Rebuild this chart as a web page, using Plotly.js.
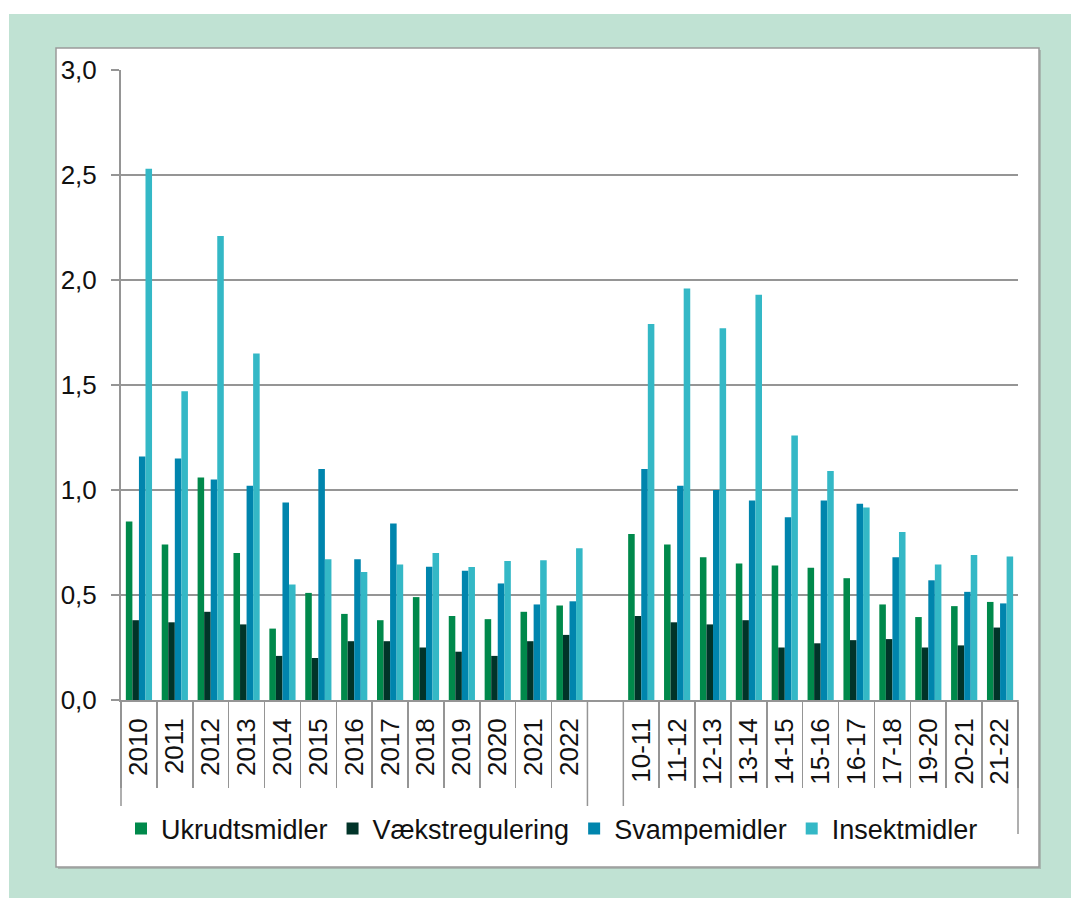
<!DOCTYPE html>
<html>
<head>
<meta charset="utf-8">
<script src="https://cdn.plot.ly/plotly-3.0.1.min.js"></script>
<style>
  html, body { margin: 0; padding: 0; background: #ffffff; }
  #chart { width: 1071px; height: 898px; }
</style>
</head>
<body>
<div id="chart"></div>
<script>
// ---- data ----
var yearCats = ["2010","2011","2012","2013","2014","2015","2016","2017","2018","2019","2020","2021","2022"];
var seasonCats = ["10-11","11-12","12-13","13-14","14-15","15-16","16-17","17-18","19-20","20-21","21-22"];
var gapCat = [" "];

var ukrudtYears   = [0.85, 0.74, 1.06, 0.70, 0.34, 0.51, 0.41, 0.38, 0.49, 0.40, 0.385, 0.42, 0.45];
var vaekstYears   = [0.38, 0.37, 0.42, 0.36, 0.21, 0.20, 0.28, 0.28, 0.25, 0.23, 0.21, 0.28, 0.31];
var svampYears    = [1.16, 1.15, 1.05, 1.02, 0.94, 1.10, 0.67, 0.84, 0.635, 0.615, 0.555, 0.455, 0.47];
var insektYears   = [2.53, 1.47, 2.21, 1.65, 0.55, 0.67, 0.61, 0.645, 0.70, 0.633, 0.662, 0.665, 0.723];

var ukrudtSeasons = [0.79, 0.74, 0.68, 0.65, 0.64, 0.63, 0.58, 0.455, 0.395, 0.447, 0.467];
var vaekstSeasons = [0.40, 0.37, 0.36, 0.38, 0.25, 0.27, 0.285, 0.29, 0.25, 0.26, 0.345];
var svampSeasons  = [1.10, 1.02, 1.00, 0.95, 0.87, 0.95, 0.935, 0.68, 0.57, 0.515, 0.46];
var insektSeasons = [1.79, 1.96, 1.77, 1.93, 1.26, 1.09, 0.917, 0.80, 0.645, 0.69, 0.683];

var seriesNames  = ["Ukrudtsmidler", "Vækstregulering", "Svampemidler", "Insektmidler"];
var seriesColors = ["#00894b", "#013429", "#0085ad", "#34b8c6"];
var yTickVals = [0, 0.5, 1.0, 1.5, 2.0, 2.5, 3.0];

// ---- build ----
var cats = yearCats.concat(gapCat, seasonCats);
function join(a, b) { return a.concat([null], b); }
var seriesValues = [
  join(ukrudtYears, ukrudtSeasons),
  join(vaekstYears, vaekstSeasons),
  join(svampYears, svampSeasons),
  join(insektYears, insektSeasons)
];

var FONT = '"Liberation Sans", Arial, sans-serif';
var GRID = '#959595';
var FS = 26;

var traces = seriesNames.map(function (name, i) {
  return {
    type: 'bar', name: name, x: cats, y: seriesValues[i],
    marker: { color: seriesColors[i], line: { width: 0 } },
    xaxis: 'x', yaxis: 'y', hoverinfo: 'x+y+name'
  };
});
// label-only axis carrier (invisible)
traces.push({
  type: 'scatter', mode: 'none', x: cats, y: cats.map(function () { return null; }),
  xaxis: 'x2', yaxis: 'y', showlegend: false, hoverinfo: 'skip'
});

var N = cats.length;
var b1 = yearCats.length / N, b2 = (yearCats.length + 1) / N;

// plot area in px: left 121, width 897, top 70, height 630
function px(x) { return (x - 121) / 897; }
function py(y) { return (700 - y) / 630; }

var shapes = [
  { type: 'rect', xref: 'paper', yref: 'paper', layer: 'below',
    x0: px(9), x1: px(1090), y0: py(920), y1: py(14),
    fillcolor: '#c0e2d3', line: { width: 0 } },
  { type: 'rect', xref: 'paper', yref: 'paper', layer: 'below',
    x0: px(58), x1: px(1041), y0: py(869), y1: py(50),
    fillcolor: '#a8b8b0', line: { width: 0 } },
  { type: 'rect', xref: 'paper', yref: 'paper', layer: 'below',
    x0: px(56), x1: px(1039), y0: py(867), y1: py(48),
    fillcolor: '#ffffff', line: { color: '#9a9a9a', width: 1.5 } },
  { type: 'line', xref: 'paper', yref: 'paper', x0: 0, x1: 0, y0: 0, y1: py(806),
    line: { color: GRID, width: 1.5 } },
  { type: 'line', xref: 'paper', yref: 'paper', x0: b1, x1: b1, y0: 0, y1: py(806),
    line: { color: GRID, width: 1.5 } },
  { type: 'line', xref: 'paper', yref: 'paper', x0: b2, x1: b2, y0: 0, y1: py(806),
    line: { color: GRID, width: 1.5 } },
  { type: 'line', xref: 'paper', yref: 'paper', x0: 1, x1: 1, y0: 0, y1: py(834),
    line: { color: GRID, width: 1.5 } }
];

var layout = {
  width: 1071, height: 898,
  margin: { l: 121, r: 53, t: 70, b: 198, pad: 0 },
  paper_bgcolor: '#ffffff',
  plot_bgcolor: 'rgba(0,0,0,0)',
  font: { family: FONT, size: FS, color: '#111111' },
  separators: ', ',
  barmode: 'group',
  bargap: 0.27,
  bargroupgap: 0,
  showlegend: true,
  legend: {
    orientation: 'h', x: 0, xanchor: 'left', y: py(829), yanchor: 'middle',
    font: { family: FONT, size: 27, color: '#111111' },
    bgcolor: 'rgba(0,0,0,0)', traceorder: 'normal', itemclick: false
  },
  xaxis: {
    type: 'category', categoryorder: 'array', categoryarray: cats,
    range: [-0.5, N - 0.5], fixedrange: true,
    showgrid: false, zeroline: false,
    showline: true, linecolor: GRID, linewidth: 2,
    ticks: 'outside', tickson: 'boundaries', ticklen: 86,
    tickcolor: GRID, tickwidth: 1.5,
    showticklabels: false
  },
  xaxis2: {
    type: 'category', categoryorder: 'array', categoryarray: cats,
    range: [-0.5, N - 0.5], fixedrange: true,
    overlaying: 'x', anchor: 'y', side: 'bottom',
    showgrid: false, zeroline: false, showline: false,
    ticks: '', showticklabels: true, tickangle: -90,
    ticklabelstandoff: 12,
    tickfont: { family: FONT, size: FS, color: '#111111' }
  },
  yaxis: {
    range: [0, 3], fixedrange: true,
    tickmode: 'array', tickvals: yTickVals, tickformat: '.1f',
    showgrid: true, gridcolor: GRID, gridwidth: 1.5,
    zeroline: false,
    showline: true, linecolor: GRID, linewidth: 2,
    ticks: 'outside', ticklen: 8, tickcolor: GRID, tickwidth: 1.5,
    ticklabelstandoff: 9,
    tickfont: { family: FONT, size: FS, color: '#111111' }
  },
  shapes: shapes
};

Plotly.newPlot('chart', traces, layout, { displayModeBar: false, staticPlot: true });
</script>
</body>
</html>
